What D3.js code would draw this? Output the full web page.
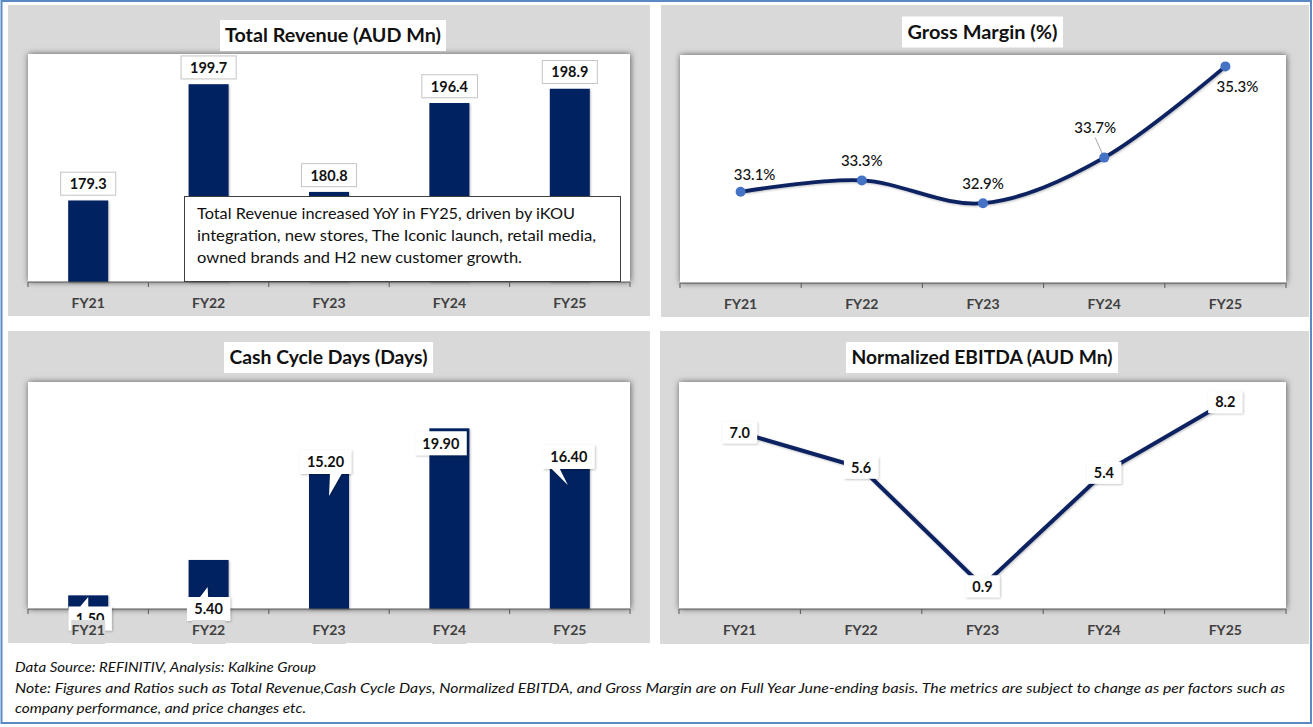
<!DOCTYPE html>
<html>
<head>
<meta charset="utf-8">
<script src="https://cdn.jsdelivr.net/npm/d3@7"></script>
<style>
  html, body { margin: 0; padding: 0; background: #fff; }
  svg { display: block; }
</style>
</head>
<body>
<svg id="chart" width="1313" height="727"></svg>
<script>
/* Four-panel financial summary (FY21–FY25) */

const FONT = 'Lato, "Open Sans", "DejaVu Sans", sans-serif';

/* ---- data ---- */
const years         = ['FY21', 'FY22', 'FY23', 'FY24', 'FY25'];
const revenue       = [179.3, 199.7, 180.8, 196.4, 198.9];
const grossMargin   = [33.1, 33.3, 32.9, 33.7, 35.3];
const cashCycleDays = [1.50, 5.40, 15.20, 19.90, 16.40];
const ebitda        = [7.0, 5.6, 0.9, 5.4, 8.2];

const revenueRange = [165, 205];
const marginRange  = [31.5, 35.5];
const cashRange    = [0, 25];
const ebitdaRange  = [0, 9];

const titles = [
  'Total Revenue (AUD Mn)',
  'Gross Margin (%)',
  'Cash Cycle Days (Days)',
  'Normalized EBITDA (AUD Mn)',
];

const revenueNote = [
  'Total Revenue increased YoY in FY25, driven by iKOU',
  'integration, new stores, The Iconic launch, retail media,',
  'owned brands and H2 new customer growth.',
];

const footerLines = [
  'Data Source: REFINITIV, Analysis: Kalkine Group',
  'Note: Figures and Ratios such as Total Revenue,Cash Cycle Days, Normalized EBITDA, and Gross Margin are on Full Year June-ending basis. The metrics are subject to change as per factors such as',
  'company performance, and price changes etc.',
];

/* ---- layout ---- */
const PANELS = [
  { box: [8, 5, 642, 311],   plot: [28, 54, 602, 228],  title: { cx: 333,   cy: 35.5,  w: 226, tw: 216 } },
  { box: [661, 5, 648, 312], plot: [680, 55, 606, 228], title: { cx: 982.5, cy: 32,    w: 161, tw: 150 } },
  { box: [8, 331, 642, 312], plot: [28, 382, 602, 227], title: { cx: 328.5, cy: 357.5, w: 209, tw: 198 } },
  { box: [660, 331, 649, 313], plot: [679, 382, 607, 227], title: { cx: 982, cy: 357.5, w: 272, tw: 261 } },
];

const BAR_FILL  = '#002060';
const LINE_NAVY = '#0b2161';
const MARKER    = '#4472c4';
const PANEL_BG  = '#d9d9d9';
const BAR_W     = 40;

const svg = d3.select('#chart');

/* shadows */
const defs = svg.append('defs');
defs.append('filter').attr('id', 'plotShadow')
  .attr('x', '-5%').attr('y', '-10%').attr('width', '110%').attr('height', '120%')
  .append('feDropShadow')
  .attr('dx', 0.5).attr('dy', 0).attr('stdDeviation', 3)
  .attr('flood-color', '#000').attr('flood-opacity', 0.6);
defs.append('filter').attr('id', 'softShadow')
  .attr('x', '-20%').attr('y', '-20%').attr('width', '150%').attr('height', '150%')
  .append('feDropShadow')
  .attr('dx', 1).attr('dy', 1).attr('stdDeviation', 1.2)
  .attr('flood-color', '#000').attr('flood-opacity', 0.25);

function drawPanel(p, title) {
  const [bx, by, bw, bh] = p.box;
  svg.append('rect')
    .attr('x', bx).attr('y', by).attr('width', bw).attr('height', bh)
    .attr('fill', PANEL_BG);

  const [px, py, pw, ph] = p.plot;
  svg.append('rect')
    .attr('x', px).attr('y', py).attr('width', pw).attr('height', ph)
    .attr('fill', '#fff')
    .attr('filter', 'url(#plotShadow)');

  const t = p.title;
  svg.append('rect')
    .attr('x', t.cx - t.w / 2).attr('y', t.cy - 15.5)
    .attr('width', t.w).attr('height', 31)
    .attr('fill', '#fff');
  svg.append('text')
    .attr('x', t.cx).attr('y', t.cy).attr('dy', '0.36em')
    .attr('text-anchor', 'middle')
    .attr('font-family', FONT).attr('font-weight', 700).attr('font-size', 18.5)
    .attr('fill', '#111')
    .attr('textLength', t.tw).attr('lengthAdjust', 'spacingAndGlyphs')
    .text(title);

  return d3.scaleBand().domain(years).range([px, px + pw]);
}

function drawAxisLine(x, yBase) {
  const [r0, r1] = x.range();
  const g = svg.append('g');
  g.append('line')
    .attr('x1', r0).attr('x2', r1).attr('y1', yBase).attr('y2', yBase)
    .attr('stroke', '#595959').attr('stroke-width', 1.2);
  const edges = years.map(d => x(d)).concat(r1);
  g.selectAll('line.tick').data(edges).join('line')
    .attr('class', 'tick')
    .attr('x1', d => d).attr('x2', d => d)
    .attr('y1', yBase).attr('y2', yBase + 5)
    .attr('stroke', '#595959').attr('stroke-width', 1);
}

function drawAxisLabels(x, yBase, withBg) {
  const g = svg.append('g');
  const cx = d => x(d) + x.bandwidth() / 2;
  if (withBg) {
    g.selectAll('rect').data(years).join('rect')
      .attr('x', d => cx(d) - 17).attr('y', yBase + 11)
      .attr('width', 34).attr('height', 24)
      .attr('fill', PANEL_BG);
  }
  g.selectAll('text').data(years).join('text')
    .attr('x', cx).attr('y', yBase + 21).attr('dy', '0.36em')
    .attr('text-anchor', 'middle')
    .attr('font-family', FONT).attr('font-weight', 700).attr('font-size', 14)
    .attr('fill', '#404040')
    .text(d => d);
}

/* ===== Panel 1: Total Revenue ===== */
{
  const p = PANELS[0];
  const x = drawPanel(p, titles[0]);
  const base = p.plot[1] + p.plot[3];
  const y = d3.scaleLinear().domain(revenueRange).range([base, p.plot[1]]);
  const cx = i => x(years[i]) + x.bandwidth() / 2;

  svg.append('g').selectAll('rect').data(revenue).join('rect')
    .attr('x', (d, i) => cx(i) - BAR_W / 2).attr('width', BAR_W)
    .attr('y', d => y(d)).attr('height', d => base - y(d))
    .attr('fill', BAR_FILL)
    .attr('filter', 'url(#softShadow)');

  drawAxisLine(x, base);

  const fmt = d3.format('.1f');
  const lab = svg.append('g').selectAll('g').data(revenue).join('g');
  lab.append('text')
    .attr('x', (d, i) => cx(i)).attr('y', d => y(d) - 16.5).attr('dy', '0.36em')
    .attr('text-anchor', 'middle')
    .attr('font-family', FONT).attr('font-weight', 700).attr('font-size', 14.5)
    .attr('fill', '#111')
    .text(fmt);
  lab.each(function () {
    const g = d3.select(this);
    const bb = g.select('text').node().getBBox();
    g.insert('rect', 'text')
      .attr('x', bb.x - 9).attr('y', bb.y + bb.height / 2 - 11.5)
      .attr('width', bb.width + 18).attr('height', 23)
      .attr('fill', '#fff').attr('stroke', '#c4c4c4').attr('stroke-width', 1);
  });

  /* annotation box */
  const note = svg.append('g');
  note.append('rect')
    .attr('x', 184.5).attr('y', 196.5).attr('width', 436).attr('height', 85)
    .attr('fill', '#fff').attr('stroke', '#404040').attr('stroke-width', 1);
  const noteW = [378, 399, 325];
  note.selectAll('text').data(revenueNote).join('text')
    .attr('x', 197).attr('y', (d, i) => 213 + i * 22).attr('dy', '0.36em')
    .attr('font-family', FONT).attr('font-size', 16)
    .attr('fill', '#111')
    .attr('textLength', (d, i) => noteW[i]).attr('lengthAdjust', 'spacingAndGlyphs')
    .text(d => d);

  drawAxisLabels(x, base, false);
}

/* ===== Panel 2: Gross Margin ===== */
{
  const p = PANELS[1];
  const x = drawPanel(p, titles[1]);
  const base = p.plot[1] + p.plot[3];
  const y = d3.scaleLinear().domain(marginRange).range([base, p.plot[1]]);
  const cx = i => x(years[i]) + x.bandwidth() / 2;

  drawAxisLine(x, base);

  const line = d3.line()
    .x((d, i) => cx(i)).y(d => y(d))
    .curve(d3.curveCardinal.tension(0));
  svg.append('path')
    .attr('d', line(grossMargin))
    .attr('fill', 'none').attr('stroke', LINE_NAVY).attr('stroke-width', 3.8)
    .attr('stroke-linecap', 'round')
    .attr('filter', 'url(#softShadow)');

  /* label offsets from each point */
  const labelPos = [[14, -17], [0, -20], [0, -20], [-9, -30], [12, 20]];

  /* leader line for FY24 */
  svg.append('line')
    .attr('x1', cx(3) + labelPos[3][0]).attr('y1', y(grossMargin[3]) + labelPos[3][1] + 10)
    .attr('x2', cx(3) - 1).attr('y2', y(grossMargin[3]) - 2)
    .attr('stroke', '#a6a6a6').attr('stroke-width', 1);

  svg.append('g').selectAll('circle').data(grossMargin).join('circle')
    .attr('cx', (d, i) => cx(i)).attr('cy', d => y(d)).attr('r', 5)
    .attr('fill', MARKER);

  svg.append('g').selectAll('text').data(grossMargin).join('text')
    .attr('x', (d, i) => cx(i) + labelPos[i][0])
    .attr('y', (d, i) => y(d) + labelPos[i][1]).attr('dy', '0.36em')
    .attr('text-anchor', 'middle')
    .attr('font-family', FONT).attr('font-size', 15).attr('font-weight', 500)
    .attr('fill', '#111')
    .text(d => d3.format('.1f')(d) + '%');

  drawAxisLabels(x, base, false);
}

/* ===== Panel 3: Cash Cycle Days ===== */
{
  const p = PANELS[2];
  const x = drawPanel(p, titles[2]);
  const base = p.plot[1] + p.plot[3];
  const y = d3.scaleLinear().domain(cashRange).range([base, p.plot[1]]);
  const cx = i => x(years[i]) + x.bandwidth() / 2;

  svg.append('g').selectAll('rect').data(cashCycleDays).join('rect')
    .attr('x', (d, i) => cx(i) - BAR_W / 2).attr('width', BAR_W)
    .attr('y', d => y(d)).attr('height', d => base - y(d))
    .attr('fill', BAR_FILL)
    .attr('filter', 'url(#softShadow)');

  drawAxisLine(x, base);

  /* callout placement relative to bar centre / bar top */
  const callouts = [
    { dx: 2,    top: 11,  ptr: 'top',    base: [-10, -2],  apex: [0, 1.5] },
    { dx: 0,    top: 37,  ptr: 'top',    base: [-8.5, -0.5], apex: [-1, 27] },
    { dx: -3.5, top: -21, ptr: 'bottom', base: [4.5, 16],  apex: [0, 25] },
    { dx: -8.5, top: 3,   ptr: null },
    { dx: -1,   top: -15, ptr: 'bottom', base: [-17, -9],  apex: [-2, 25] },
  ];
  const H = 24;
  const fmt = d3.format('.2f');
  const lab = svg.append('g').selectAll('g').data(cashCycleDays).join('g');
  lab.append('text')
    .attr('x', (d, i) => cx(i) + callouts[i].dx)
    .attr('y', (d, i) => y(d) + callouts[i].top + H / 2).attr('dy', '0.36em')
    .attr('text-anchor', 'middle')
    .attr('font-family', FONT).attr('font-weight', 700).attr('font-size', 14.5)
    .attr('fill', '#111')
    .text(fmt);
  lab.each(function (d, i) {
    const g = d3.select(this);
    const c = callouts[i];
    const bb = g.select('text').node().getBBox();
    const w = bb.width + 14;
    const mx = cx(i) + c.dx;
    const x0 = mx - w / 2, x1 = mx + w / 2;
    const y0 = y(d) + c.top, y1 = y0 + H;
    let path;
    if (c.ptr === 'top') {
      const ax = cx(i) + c.apex[0], ay = y(d) + c.apex[1];
      path = `M${x0},${y0}H${mx + c.base[0]}L${ax},${ay}L${mx + c.base[1]},${y0}H${x1}V${y1}H${x0}Z`;
    } else if (c.ptr === 'bottom') {
      const ax = cx(i) + c.apex[0], ay = y(d) + c.apex[1];
      path = `M${x0},${y0}H${x1}V${y1}H${mx + c.base[1]}L${ax},${ay}L${mx + c.base[0]},${y1}H${x0}Z`;
    } else {
      path = `M${x0},${y0}H${x1}V${y1}H${x0}Z`;
    }
    g.insert('path', 'text')
      .attr('d', path)
      .attr('fill', '#fff')
      .attr('filter', 'url(#softShadow)');
  });

  drawAxisLabels(x, base, true);
}

/* ===== Panel 4: Normalized EBITDA ===== */
{
  const p = PANELS[3];
  const x = drawPanel(p, titles[3]);
  const base = p.plot[1] + p.plot[3];
  const y = d3.scaleLinear().domain(ebitdaRange).range([base, p.plot[1]]);
  const cx = i => x(years[i]) + x.bandwidth() / 2;

  drawAxisLine(x, base);

  const line = d3.line().x((d, i) => cx(i)).y(d => y(d));
  svg.append('path')
    .attr('d', line(ebitda))
    .attr('fill', 'none').attr('stroke', LINE_NAVY).attr('stroke-width', 4)
    .attr('filter', 'url(#softShadow)');

  const fmt = d3.format('.1f');
  const lab = svg.append('g').selectAll('g').data(ebitda).join('g');
  lab.append('text')
    .attr('x', (d, i) => cx(i)).attr('y', d => y(d)).attr('dy', '0.36em')
    .attr('text-anchor', 'middle')
    .attr('font-family', FONT).attr('font-weight', 700).attr('font-size', 14.5)
    .attr('fill', '#111')
    .text(fmt);
  lab.each(function (d, i) {
    const g = d3.select(this);
    const bb = g.select('text').node().getBBox();
    g.insert('rect', 'text')
      .attr('x', cx(i) - (bb.width + 14) / 2).attr('y', y(d) - 11)
      .attr('width', bb.width + 14).attr('height', 22)
      .attr('fill', '#fff')
      .attr('filter', 'url(#softShadow)');
  });

  drawAxisLabels(x, base, false);
}

/* ===== footer ===== */
const footerW = [301, 1270, 291];
svg.append('g').selectAll('text').data(footerLines).join('text')
  .attr('x', 15).attr('y', (d, i) => [667, 687.5, 708][i]).attr('dy', '0.36em')
  .attr('font-family', FONT).attr('font-style', 'italic').attr('font-size', 14)
  .attr('fill', '#111')
  .attr('textLength', (d, i) => footerW[i]).attr('lengthAdjust', 'spacingAndGlyphs')
  .text(d => d);

/* outer frame */
svg.append('rect')
  .attr('x', 1.5).attr('y', 1).attr('width', 1309.5).attr('height', 722)
  .attr('fill', 'none').attr('stroke', '#5a8ac6').attr('stroke-width', 2);
</script>
</body>
</html>
